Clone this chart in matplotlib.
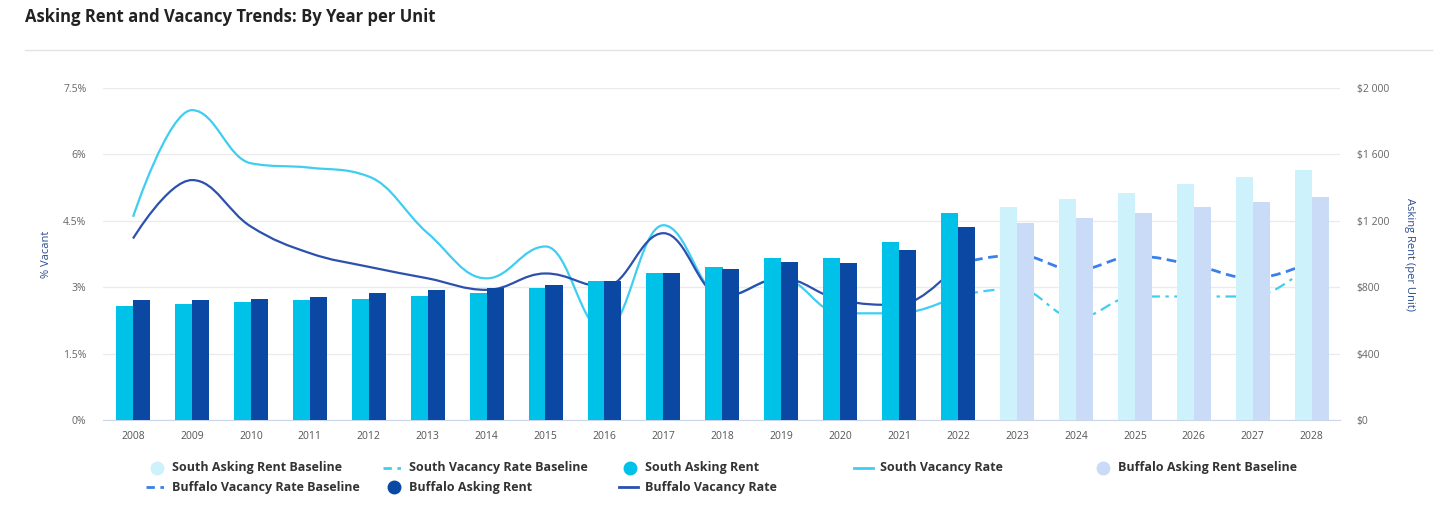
import numpy as np
import matplotlib
matplotlib.use('Agg')
import matplotlib.pyplot as plt
from matplotlib.path import Path
from matplotlib.patches import PathPatch
from matplotlib.lines import Line2D
from matplotlib.ticker import FuncFormatter

plt.rcParams['font.family'] = ['Open Sans', 'DejaVu Sans']

# data
years = [str(y) for y in range(2008, 2029)]
actual_years = years[:15]        # 2008-2022
forecast_years = years[15:]      # 2023-2028
baseline_line_years = years[14:] # 2022-2028 (baseline lines start at last actual)

south_rent = [688, 697, 709, 723, 731, 747, 767, 793, 839, 888, 924, 974, 974, 1072, 1245]
buffalo_rent = [723, 723, 731, 743, 763, 783, 793, 813, 839, 884, 908, 954, 948, 1024, 1165]
south_rent_base = [1285, 1329, 1365, 1420, 1466, 1506]
buffalo_rent_base = [1189, 1219, 1249, 1285, 1315, 1345]

south_vac = [4.59, 7.00, 5.80, 5.70, 5.50, 4.22, 3.20, 3.92, 2.00, 4.40, 2.79, 3.20, 2.41, 2.41, 2.82]
buffalo_vac = [4.10, 5.42, 4.37, 3.77, 3.46, 3.20, 2.94, 3.31, 3.01, 4.22, 2.79, 3.20, 2.71, 2.60, 3.54]
south_vac_base = [2.82, 2.97, 2.30, 2.79, 2.79, 2.79, 3.55]
buffalo_vac_base = [3.54, 3.73, 3.39, 3.70, 3.50, 3.20, 3.58]

vac_ticks = [0, 1.5, 3, 4.5, 6, 7.5]
rent_ticks = [0, 400, 800, 1200, 1600, 2000]

# colours
c_south = '#00c2e8'
c_buffalo = '#0a48a3'
c_south_base = '#cdf2fb'
c_buffalo_base = '#cadbf7'
c_south_line = '#3fcdf2'
c_buffalo_line = '#2b50ad'
c_buffalo_dash = '#3b80ea'


def spline_path(xs, ys):
    # Highcharts-style spline (smoothing 1.5), as cubic bezier path
    xs = list(map(float, xs))
    ys = list(map(float, ys))
    n = len(xs)
    smoothing = 1.5
    denom = smoothing + 1
    left = [None] * n
    right = [None] * n
    for i in range(1, n - 1):
        px, py = xs[i], ys[i]
        lx, ly = xs[i - 1], ys[i - 1]
        nx, ny = xs[i + 1], ys[i + 1]
        lcx = (smoothing * px + lx) / denom
        lcy = (smoothing * py + ly) / denom
        rcx = (smoothing * px + nx) / denom
        rcy = (smoothing * py + ny) / denom
        corr = 0
        if rcx != lcx:
            corr = (rcy - lcy) * (rcx - px) / (rcx - lcx) + py - rcy
        lcy += corr
        rcy += corr
        if lcy > ly and lcy > py:
            lcy = max(ly, py)
            rcy = 2 * py - lcy
        elif lcy < ly and lcy < py:
            lcy = min(ly, py)
            rcy = 2 * py - lcy
        if rcy > ny and rcy > py:
            rcy = max(ny, py)
            lcy = 2 * py - rcy
        elif rcy < ny and rcy < py:
            rcy = min(ny, py)
            lcy = 2 * py - rcy
        left[i] = (lcx, lcy)
        right[i] = (rcx, rcy)
    verts = [(xs[0], ys[0])]
    codes = [Path.MOVETO]
    for i in range(1, n):
        c1 = right[i - 1] if right[i - 1] else (xs[i - 1], ys[i - 1])
        c2 = left[i] if left[i] else (xs[i], ys[i])
        verts += [c1, c2, (xs[i], ys[i])]
        codes += [Path.CURVE4] * 3
    return Path(verts, codes)


fig = plt.figure(figsize=(14.4, 5.08), dpi=100)
ax = fig.add_axes([103 / 1440, 1 - 420 / 508, (1340 - 103) / 1440, 332 / 508])
ax2 = ax.twinx()

x_all = np.arange(len(years))
x_act = np.arange(len(actual_years))
x_fc = np.arange(len(actual_years), len(years))
x_bl = np.arange(len(actual_years) - 1, len(years))

# vacancy lines (behind bars)
for xs, ys, col, lw, ls in [
    (x_act, south_vac, c_south_line, 1.6, '-'),
    (x_act, buffalo_vac, c_buffalo_line, 1.6, '-'),
    (x_bl, south_vac_base, c_south_line, 1.6, (0, (5, 2.5, 1.5, 2.5))),
    (x_bl, buffalo_vac_base, c_buffalo_dash, 2.0, (0, (3.5, 2))),
]:
    patch = PathPatch(spline_path(xs, ys), facecolor='none', edgecolor=col,
                      lw=lw, linestyle=ls, capstyle='butt', zorder=3)
    ax.add_patch(patch)

# bars (on top of the lines)
w = 0.29
off = 0.143
ax2.bar(x_act - off, south_rent, width=w, color=c_south, lw=0, zorder=3)
ax2.bar(x_act + off, buffalo_rent, width=w, color=c_buffalo, lw=0, zorder=3)
ax2.bar(x_fc - off, south_rent_base, width=w, color=c_south_base, lw=0, zorder=3)
ax2.bar(x_fc + off, buffalo_rent_base, width=w, color=c_buffalo_base, lw=0, zorder=3)

ax.set_xlim(-0.51, 20.48)
ax.set_ylim(0, 7.5)
ax2.set_ylim(0, 2000)
ax.set_yticks(vac_ticks)
ax2.set_yticks(rent_ticks)
ax.yaxis.set_major_formatter(FuncFormatter(lambda v, p: f'{v:g}%'))
ax2.yaxis.set_major_formatter(FuncFormatter(lambda v, p: '$' + f'{v:,.0f}'.replace(',', ' ')))
ax.set_xticks(x_all)
ax.set_xticklabels(years)

ax.grid(axis='y', color='#ebebeb', lw=1)
ax.set_axisbelow(True)
for a in (ax, ax2):
    for s in a.spines.values():
        s.set_visible(False)
ax.spines['bottom'].set_visible(True)
ax.spines['bottom'].set_color('#ccd6eb')
ax.tick_params(axis='x', length=0, pad=8, labelsize=7.5, labelcolor='#555555')
ax.tick_params(axis='y', length=0, pad=12, labelsize=7.5, labelcolor='#666666')
ax2.tick_params(axis='y', length=0, pad=12, labelsize=7.5, labelcolor='#666666')

ax.set_ylabel('% Vacant', fontsize=8, color='#2c4d8e', labelpad=8)
ax2.set_ylabel('Asking Rent (per Unit)', fontsize=8, color='#2c4d8e',
               rotation=270, labelpad=19)

# title and separator
fig.text(25 / 1440, 1 - 17 / 508, 'Asking Rent and Vacancy Trends: By Year per Unit',
         fontsize=12, fontweight='bold', color='#222222', va='center', ha='left')
fig.add_artist(Line2D([25 / 1440, 1432 / 1440], [1 - 50 / 508] * 2,
                      transform=fig.transFigure, color='#e3e3e3', lw=1))

# legend (laid out in rows of five like the source)
legend_items = [
    ('South Asking Rent Baseline', 'dot', c_south_base),
    ('South Vacancy Rate Baseline', 'dashdot', c_south_line),
    ('South Asking Rent', 'dot', c_south),
    ('South Vacancy Rate', 'line', c_south_line),
    ('Buffalo Asking Rent Baseline', 'dot', c_buffalo_base),
    ('Buffalo Vacancy Rate Baseline', 'dashdot', c_buffalo_dash),
    ('Buffalo Asking Rent', 'dot', c_buffalo),
    ('Buffalo Vacancy Rate', 'line', c_buffalo_line),
]
col_x = [172, 409, 645, 880, 1118]
row_y = [468, 487]
for k, (label, kind, col) in enumerate(legend_items):
    tx = col_x[k % 5]
    ty = 1 - row_y[k // 5] / 508
    if kind == 'dot':
        fig.add_artist(Line2D([(tx - 15) / 1440], [ty], transform=fig.transFigure,
                              marker='o', markersize=9, color=col, lw=0))
    else:
        h = Line2D([(tx - 26) / 1440, (tx - 7) / 1440], [ty, ty],
                   transform=fig.transFigure, color=col, lw=2)
        if kind == 'dashdot':
            h.set_dashes((3, 2, 1.3, 2))
        fig.add_artist(h)
    fig.text(tx / 1440, ty, label, fontsize=9, fontweight='bold',
             color='#333333', va='center', ha='left')

fig.savefig('out.png', dpi=100)
